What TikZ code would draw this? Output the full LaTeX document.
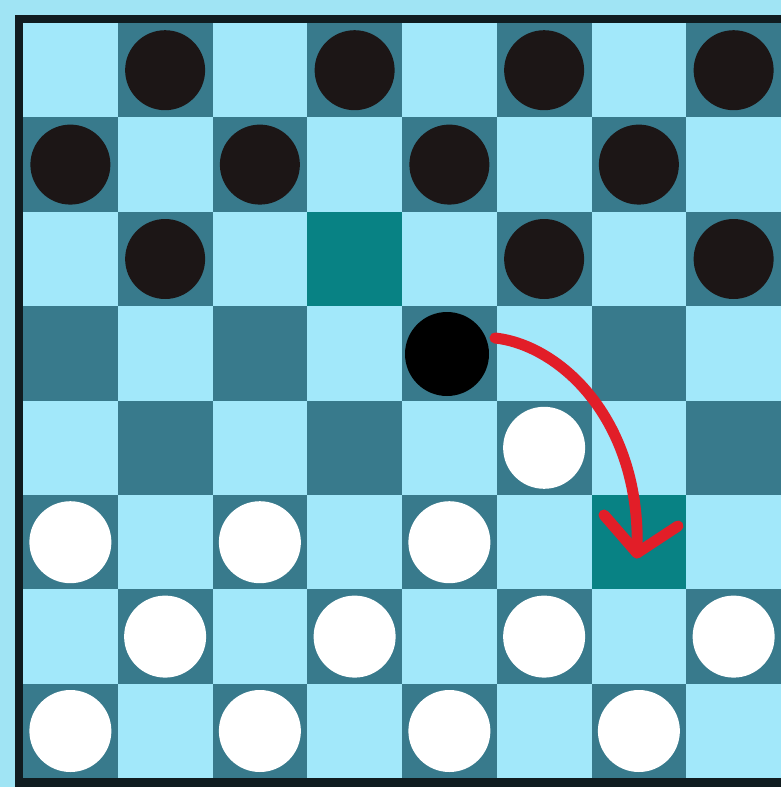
\documentclass[tikz,border=0pt]{standalone}
\begin{document}
\begin{tikzpicture}[x=1pt,y=-1pt,
  lightsq/.style={fill=sqlight},
  darksq/.style={fill=sqdark},
  hisq/.style={fill=sqhi},
  blackpc/.style={circle,fill=pcblack,minimum size=80pt,inner sep=0pt},
  activepc/.style={circle,fill=black,minimum size=84pt,inner sep=0pt},
  whitepc/.style={circle,fill=white,minimum size=82pt,inner sep=0pt},
  movearrow/.style={draw=arrred,line width=11pt,line cap=round,line join=round}]
\definecolor{bgout}{RGB}{160,228,244}
\definecolor{sqlight}{RGB}{162,232,250}
\definecolor{sqdark}{RGB}{56,122,140}
\definecolor{sqhi}{RGB}{8,130,132}
\definecolor{frame}{RGB}{16,28,32}
\definecolor{pcblack}{RGB}{28,22,22}
\definecolor{arrred}{RGB}{226,30,40}
\def\ox{23}\def\oy{23}\def\sx{94.75}\def\sy{94.4}
\useasboundingbox (0,0) rectangle (781,787);
\fill[bgout] (0,0) rectangle (781,787);
\fill[frame] (15,15) rectangle (781,787);
% squares
\foreach \r in {0,...,7}{
  \foreach \c in {0,...,7}{
    \pgfmathtruncatemacro{\sqpar}{mod(\r+\c,2)}
    \ifnum\sqpar=0
      \fill[lightsq] (\ox+\c*\sx,\oy+\r*\sy) rectangle ++(\sx,\sy);
    \else
      \fill[darksq] (\ox+\c*\sx,\oy+\r*\sy) rectangle ++(\sx,\sy);
    \fi
  }
}
% highlighted squares
\fill[hisq] (\ox+3*\sx,\oy+2*\sy) rectangle ++(\sx,\sy);
\fill[hisq] (\ox+6*\sx,\oy+5*\sy) rectangle ++(\sx,\sy);
% black pieces
\foreach \r/\c in {0/1,0/3,0/5,0/7,1/0,1/2,1/4,1/6,2/1,2/5,2/7}{
  \node[blackpc] (b\r\c) at (\ox+\c*\sx+0.5*\sx,\oy+\r*\sy+0.5*\sy) {};
}
% white pieces
\foreach \r/\c in {4/5,5/0,5/2,5/4,6/1,6/3,6/5,6/7,7/0,7/2,7/4,7/6}{
  \node[whitepc] (w\r\c) at (\ox+\c*\sx+0.5*\sx,\oy+\r*\sy+0.5*\sy) {};
}
% moving piece
\node[activepc] (mover) at (447,354) {};
% arrow
\coordinate (astart) at (495,338);
\coordinate (atip) at (637,553);
\coordinate (arml) at (604,515);
\coordinate (armr) at (678,526);
\draw[movearrow] (astart) .. controls (560,345) and (642,420) .. (atip);
\draw[movearrow] (arml) -- (atip) -- (armr);
\end{tikzpicture}
\end{document}
